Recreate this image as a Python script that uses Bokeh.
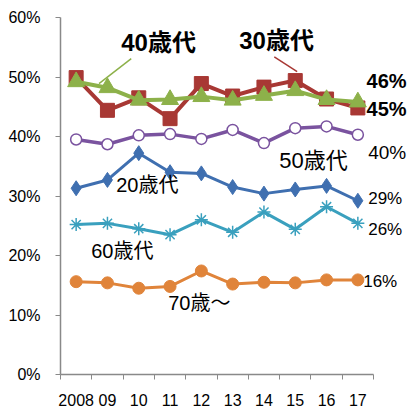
from bokeh.plotting import figure
from bokeh.models import Range1d, FixedTicker
from bokeh.core.properties import value
from bokeh.embed import file_html
from bokeh.resources import INLINE

years = ["2008", "09", "10", "11", "12", "13", "14", "15", "16", "17"]
xs = list(range(1, 11))
age20 = [31.3, 32.7, 37.2, 34.0, 33.8, 31.5, 30.4, 31.1, 31.7, 29.2]
age30 = [49.9, 44.4, 46.5, 43.0, 48.9, 46.8, 48.3, 49.4, 46.3, 44.8]
age40 = [49.2, 48.2, 46.1, 46.2, 46.7, 46.1, 46.9, 47.7, 46.2, 45.8]
age50 = [39.5, 38.7, 40.2, 40.4, 39.6, 41.1, 38.9, 41.4, 41.7, 40.3]
age60 = [25.2, 25.4, 24.5, 23.5, 26.0, 23.9, 27.3, 24.4, 28.2, 25.4]
age70 = [15.6, 15.4, 14.5, 14.8, 17.4, 15.2, 15.5, 15.4, 15.9, 15.9]
y_ticks = [0, 10, 20, 30, 40, 50, 60]

FONT = value("Liberation Sans, Noto Sans CJK JP")
FONTNAME = "Liberation Sans, Noto Sans CJK JP"

RED = "#A83834"
GREEN = "#8DB14A"
PURPLE = "#7A539F"
BLUE = "#3F6FB0"
TEAL = "#3AA0BE"
ORANGE = "#E0843A"

p = figure(width=409, height=412, output_backend="svg", toolbar_location=None,
           x_range=Range1d(0.5, 11.65), y_range=Range1d(0, 60),
           min_border_left=60, min_border_right=0, min_border_top=17, min_border_bottom=38)
p.outline_line_color = None
p.xgrid.visible = False
p.ygrid.visible = False
p.background_fill_color = "white"
p.border_fill_color = "white"

# axes
ax = p.xaxis[0]
ax.ticker = FixedTicker(ticks=xs, minor_ticks=[x - 0.5 for x in xs] + [10.5])
ax.major_label_overrides = {x: y for x, y in zip(xs, years)}
ax.bounds = (0.5, 10.5)
ax.major_tick_out = 0
ax.major_tick_in = 0
ax.minor_tick_out = 5
ax.minor_tick_in = 0
ax.minor_tick_line_color = "#898989"
ax.axis_line_color = "#898989"
ax.axis_line_width = 1.5
ax.major_label_text_font = FONTNAME
ax.major_label_text_font_size = "16px"
ax.major_label_text_color = "black"
ax.major_label_standoff = 14

ay = p.yaxis[0]
ay.ticker = FixedTicker(ticks=y_ticks, minor_ticks=[])
ay.major_label_overrides = {t: f"{t}%" for t in y_ticks}
ay.bounds = (0, 60)
ay.major_tick_out = 5
ay.major_tick_in = 0
ay.major_tick_line_color = "#898989"
ay.axis_line_color = "#898989"
ay.axis_line_width = 1.5
ay.major_label_text_font = FONTNAME
ay.major_label_text_font_size = "16px"
ay.major_label_text_color = "black"
ay.major_label_standoff = 15

# series
p.line(xs, age70, line_color=ORANGE, line_width=3)
p.scatter(xs, age70, marker="circle", size=12, fill_color=ORANGE, line_color=ORANGE)

p.line(xs, age60, line_color=TEAL, line_width=3)
p.scatter(xs, age60, marker="asterisk", size=13, line_color=TEAL, line_width=1.5)

p.line(xs, age20, line_color=BLUE, line_width=3)
p.scatter(xs, age20, marker="diamond", size=15, fill_color=BLUE, line_color=BLUE)

p.line(xs, age50, line_color=PURPLE, line_width=3.5)
p.scatter(xs, age50, marker="circle", size=11, fill_color="white", line_color=PURPLE, line_width=1.5)

p.line(xs, age30, line_color=RED, line_width=4)
p.scatter(xs, age30, marker="square", size=14, fill_color=RED, line_color=RED)

p.line(xs, age40, line_color=GREEN, line_width=4)
p.scatter(xs, age40, marker="triangle", size=17, fill_color=GREEN, line_color=GREEN)

# leader lines
p.segment(x0=[2.76], y0=[53.1], x1=[1.73], y1=[48.9], line_color=GREEN, line_width=1.5)
p.segment(x0=[7.33], y0=[53.4], x1=[8.06], y1=[50.9], line_color=RED, line_width=1.5)

def label(x, y, txt, size, bold=False):
    p.text(x=[x], y=[y], text=[txt], text_font=FONT, text_font_size=size,
           text_font_style="bold" if bold else "normal", text_color="black",
           text_align="left", text_baseline="middle")

label(2.44, 55.8, "40歳代", "24px", True)
label(6.21, 56.1, "30歳代", "24px", True)
label(10.28, 49.4, "46%", "20px", True)
label(10.28, 44.7, "45%", "20px", True)
label(10.33, 37.3, "40%", "19px")
label(7.49, 36.0, "50歳代", "22px")
label(2.28, 31.8, "20歳代", "20px")
label(10.33, 29.6, "29%", "17px")
label(10.33, 24.4, "26%", "17px")
label(1.48, 20.7, "60歳代", "20px")
label(3.94, 12.1, "70歳～", "20px")
label(10.17, 15.6, "16%", "17px")

open("out.html", "w").write(file_html(p, INLINE))
